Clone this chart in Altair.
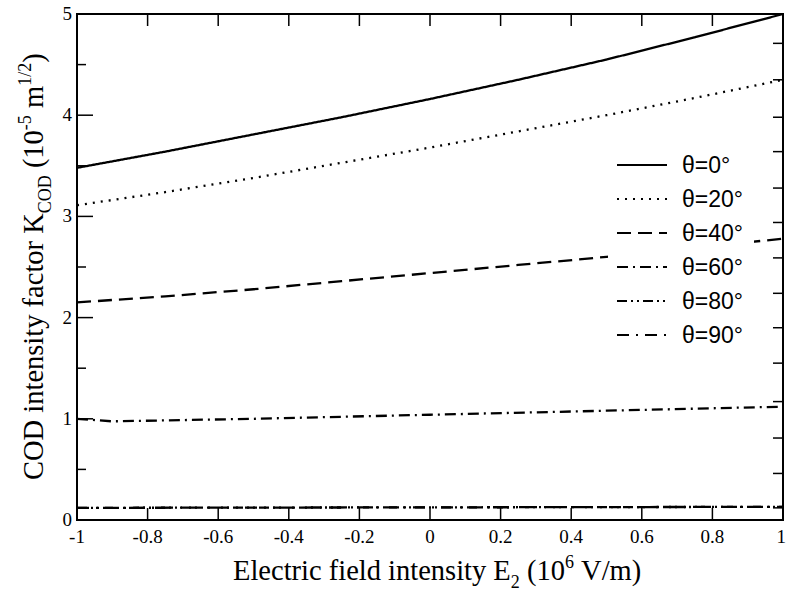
import altair as alt
import pandas as pd

# ---- data -------------------------------------------------------------
E2 = [-1.0, -0.75, -0.5, -0.25, 0.0, 0.25, 0.5, 0.75, 1.0]
K_theta0 = [3.48, 3.64, 3.81, 3.98, 4.16, 4.35, 4.55, 4.77, 5.00]
K_theta20 = [3.11, 3.24, 3.38, 3.53, 3.68, 3.84, 4.00, 4.17, 4.35]
K_theta40 = [2.15, 2.21, 2.28, 2.36, 2.44, 2.52, 2.60, 2.69, 2.78]
E2_theta60 = [-1.0, -0.9, -0.5, 0.0, 0.5, 1.0]
K_theta60 = [1.00, 0.975, 1.00, 1.04, 1.08, 1.12]
E2_flat = [-1.0, 1.0]
K_theta80 = [0.12, 0.13]
K_theta90 = [0.12, 0.13]

labels = ["θ=0°", "θ=20°", "θ=40°", "θ=60°", "θ=80°", "θ=90°"]
dashes = [[1, 0], [2, 6], [14, 7], [11, 5, 2, 5], [10, 4, 2, 4, 2, 4], [12, 7, 2, 7]]

x_ticks = [-1, -0.8, -0.6, -0.4, -0.2, 0, 0.2, 0.4, 0.6, 0.8, 1]
x_tick_text = ["-1", "-0.8", "-0.6", "-0.4", "-0.2", "0", "0.2", "0.4", "0.6", "0.8", "1"]
y_ticks = [0, 1, 2, 3, 4, 5]
y_tick_text = ["0", "1", "2", "3", "4", "5"]
y_minor = [0.5, 1.5, 2.5, 3.5, 4.5]
right_ticks = [0.12, 0.46, 0.81, 1.17, 1.55, 1.90, 2.24, 2.59, 2.94, 3.28, 3.64, 3.98, 4.35, 4.71]

series = [
    (labels[0], E2, K_theta0),
    (labels[1], E2, K_theta20),
    (labels[2], E2, K_theta40),
    (labels[3], E2_theta60, K_theta60),
    (labels[4], E2_flat, K_theta80),
    (labels[5], E2_flat, K_theta90),
]
rows = []
for name, xs, ys in series:
    for xv, yv in zip(xs, ys):
        rows.append({"series": name, "E2": xv, "K": yv})
df = pd.DataFrame(rows)

W, H = 706, 506
SERIF = "Liberation Serif"
SANS = "Liberation Sans"

xscale = alt.Scale(domain=[-1, 1], nice=False, zero=False)
yscale = alt.Scale(domain=[0, 5], nice=False, zero=False)

lines = alt.Chart(df).mark_line(strokeWidth=2.3, color="black").encode(
    x=alt.X("E2:Q", scale=xscale, axis=None),
    y=alt.Y("K:Q", scale=yscale, axis=None),
    strokeDash=alt.StrokeDash("series:N", scale=alt.Scale(domain=labels, range=dashes), legend=None),
    detail="series:N",
)

one = pd.DataFrame({"k": [0]})

# inward tick marks on all four sides
def yticks(vals, x0, x1):
    return alt.Chart(pd.DataFrame({"v": vals})).mark_rule(color="black", strokeWidth=1.5).encode(
        y=alt.Y("v:Q", scale=yscale, axis=None), x=alt.value(x0), x2=alt.value(x1))

def xticks(vals, y0, y1):
    return alt.Chart(pd.DataFrame({"v": vals})).mark_rule(color="black", strokeWidth=1.5).encode(
        x=alt.X("v:Q", scale=xscale, axis=None), y=alt.value(y0), y2=alt.value(y1))

tick_layers = [
    yticks(y_ticks[1:-1], 0, 16),
    yticks(y_minor, 0, 9),
    yticks(right_ticks, W, W - 10),
    xticks(x_ticks[1:-1], H, H - 12),
    xticks(x_ticks[1:-1], 0, 12),
]

# tick labels (the last one is kept flush with the right edge)
x_labels = alt.Chart(pd.DataFrame({"v": x_ticks[:-1], "t": x_tick_text[:-1]})).mark_text(
    font=SERIF, fontSize=19, baseline="middle", align="center", color="black").encode(
    x=alt.X("v:Q", scale=xscale, axis=None), y=alt.value(H + 17), text="t:N")
x_last = alt.Chart(pd.DataFrame({"v": x_ticks[-1:], "t": x_tick_text[-1:]})).mark_text(
    font=SERIF, fontSize=19, baseline="middle", align="right", dx=3, color="black").encode(
    x=alt.X("v:Q", scale=xscale, axis=None), y=alt.value(H + 17), text="t:N")
y_labels = alt.Chart(pd.DataFrame({"v": y_ticks, "t": y_tick_text})).mark_text(
    font=SERIF, fontSize=19, baseline="middle", align="right", color="black").encode(
    y=alt.Y("v:Q", scale=yscale, axis=None), x=alt.value(-5), text="t:N")

# legend drawn inside the plot on a white panel
LX0, LY0, ROW = 540, 151, 34
legend_layers = [
    alt.Chart(one).mark_rect(color="white").encode(
        x=alt.value(531), x2=alt.value(677), y=alt.value(126), y2=alt.value(338))
]
for i, (lab, dash) in enumerate(zip(labels, dashes)):
    yy = LY0 + i * ROW
    legend_layers.append(
        alt.Chart(one).mark_rule(color="black", strokeWidth=2, strokeDash=dash).encode(
            x=alt.value(LX0), x2=alt.value(LX0 + 50), y=alt.value(yy)))
    legend_layers.append(
        alt.Chart(one).mark_text(text=lab, font=SANS, fontSize=23, align="left",
                                 baseline="middle", color="black").encode(
            x=alt.value(LX0 + 65), y=alt.value(yy + 1)))

# axis titles with sub/superscripts
TW = {" ": 250, "(": 333, ")": 333, "-": 333, "/": 278, ".": 250,
      "C": 667, "O": 722, "D": 722, "K": 722, "E": 611, "V": 722,
      "a": 444, "c": 444, "d": 500, "e": 444, "f": 333, "i": 278, "l": 278,
      "m": 778, "n": 500, "o": 500, "r": 333, "s": 389, "t": 278, "y": 500}

def tw(s, size):
    return sum(TW.get(c, 500) for c in s) / 1000.0 * size

def rich(pieces, x0, y0, vertical):
    out = []
    cur = 0.0
    for txt, size, shift in pieces:
        lead = len(txt) - len(txt.lstrip(" "))
        cur += tw(" " * lead, size)
        body = txt.strip(" ")
        if vertical:
            px, py, ang = x0 + shift, y0 - cur, 270
        else:
            px, py, ang = x0 + cur, y0 + shift, 0
        out.append(alt.Chart(one).mark_text(text=body, font=SERIF, fontSize=size, align="left",
                                            baseline="alphabetic", angle=ang, color="black").encode(
            x=alt.value(px), y=alt.value(py)))
        cur += tw(body, size)
    return out

BIG, SMALL = 28.5, 18
x_title = rich([("Electric field intensity E", BIG, 0), ("2", SMALL, 8), (" (10", BIG, 0),
                ("6", SMALL, -12), (" V/m)", BIG, 0)], 156, 566, False)
y_title = rich([("COD intensity factor K", BIG, 0), ("COD", SMALL, 8), (" (10", BIG, 0),
                ("-5", SMALL, -12), (" m", BIG, 0), ("1/2", SMALL, -12), (")", BIG, 0)],
               -34, 466, True)

chart = alt.layer(lines, *tick_layers, x_labels, x_last, y_labels, *legend_layers,
                  *x_title, *y_title).properties(
    width=W, height=H,
    autosize=alt.AutoSizeParams(type="none"),
    padding={"left": 77, "top": 14, "right": 3, "bottom": 76},
).configure_view(stroke="black", strokeWidth=2)

chart.save("out.html", embed_options={"renderer": "svg", "actions": False})
